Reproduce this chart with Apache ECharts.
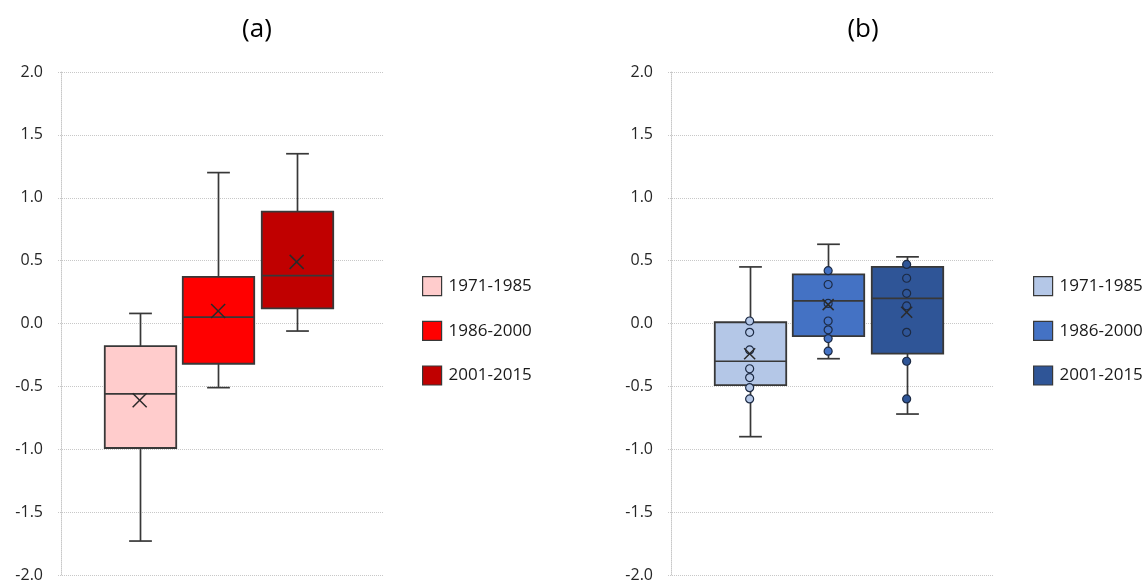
<!DOCTYPE html>
<html>
<head>
<meta charset="utf-8">
<script src="https://cdn.jsdelivr.net/npm/echarts@6/dist/echarts.min.js"></script>
<style>
html, body { margin: 0; padding: 0; background: #fff; }
#chart { width: 1148px; height: 587px; }
</style>
</head>
<body>
<div id="chart"></div>
<script>
const periods = ['1971-1985', '1986-2000', '2001-2015']

// box stats: [min, Q1, median, Q3, max]
const boxesA = [
	[-1.73, -0.99, -0.56, -0.18, 0.08],
	[-0.51, -0.32, 0.05, 0.37, 1.20],
	[-0.06, 0.12, 0.38, 0.89, 1.35]
]
const meansA = [-0.61, 0.10, 0.49]

const boxesB = [
	[-0.90, -0.49, -0.30, 0.01, 0.45],
	[-0.28, -0.10, 0.18, 0.39, 0.63],
	[-0.72, -0.24, 0.20, 0.45, 0.53]
]
const meansB = [-0.24, 0.15, 0.09]
const pointsB = [
	[0.02, -0.07, -0.21, -0.36, -0.43, -0.51, -0.60],
	[0.42, 0.31, 0.16, 0.02, -0.05, -0.12, -0.22],
	[0.47, 0.36, 0.24, 0.14, -0.07, -0.30, -0.60]
]

const yMin = -2, yMax = 2, yStep = 0.5

const coloursA = ['#FFCCCC', '#FF0000', '#C00000']
const coloursB = ['#B4C7E7', '#4472C4', '#2F5597']

const font = '"Open Sans", "Liberation Sans", sans-serif'
const edge = '#383838'
const grey = '#c8c8c8'

function renderBox(params, api) {
	const x = api.value(0)
	const lo = api.coord([x, api.value(1)])
	const q1 = api.coord([x, api.value(2)])
	const med = api.coord([x, api.value(3)])
	const q3 = api.coord([x, api.value(4)])
	const hi = api.coord([x, api.value(5)])
	const unit = api.size([1, 0])[0]
	const half = unit * 0.455
	const cap = unit * 0.145
	const cx = Math.round(lo[0]) + 0.5
	const line = { stroke: edge, lineWidth: 1.7 }
	return {
		type: 'group',
		children: [
			{ type: 'line', shape: { x1: cx, y1: hi[1], x2: cx, y2: lo[1] }, style: line },
			{ type: 'line', shape: { x1: cx - cap, y1: hi[1], x2: cx + cap, y2: hi[1] }, style: line },
			{ type: 'line', shape: { x1: cx - cap, y1: lo[1], x2: cx + cap, y2: lo[1] }, style: line },
			{ type: 'rect', shape: { x: cx - half, y: q3[1], width: half * 2, height: q1[1] - q3[1] },
				style: { fill: api.visual('color'), stroke: edge, lineWidth: 1.8 } },
			{ type: 'line', shape: { x1: cx - half, y1: med[1], x2: cx + half, y2: med[1] }, style: line }
		]
	}
}

function renderMean(size) {
	return function (params, api) {
		const p = api.coord([api.value(0), api.value(1)])
		const h = size / 2
		const st = { stroke: '#2a2a2a', lineWidth: 1.5 }
		return {
			type: 'group',
			children: [
				{ type: 'line', shape: { x1: p[0] - h, y1: p[1] - h, x2: p[0] + h, y2: p[1] + h }, style: st },
				{ type: 'line', shape: { x1: p[0] - h, y1: p[1] + h, x2: p[0] + h, y2: p[1] - h }, style: st }
			]
		}
	}
}

function panelGrid(left) {
	return { left: left, top: 72, width: 325, height: 503 }
}

function yAxisFor(idx) {
	return {
		type: 'value', gridIndex: idx, min: yMin, max: yMax, interval: yStep,
		axisLine: { show: true, lineStyle: { color: grey, type: 'dotted', width: 1 } },
		axisTick: { show: false },
		axisLabel: { margin: 15, fontSize: 16, color: '#262626', fontFamily: font, formatter: v => v.toFixed(1) },
		splitLine: { show: true, lineStyle: { color: grey, type: 'dotted', width: 1 } }
	}
}

function xAxisFor(idx) {
	return { type: 'value', gridIndex: idx, min: -0.04, max: 4.1, show: false }
}

function legendFor(tag, left) {
	return {
		orient: 'vertical', left: left, top: 271, icon: 'rect',
		itemWidth: 19, itemHeight: 19, itemGap: 24.5,
		itemStyle: { borderColor: edge, borderWidth: 1.2 },
		data: periods.map(p => tag + p),
		formatter: n => n.slice(tag.length),
		textStyle: { fontSize: 17, color: '#1a1a1a', fontFamily: font, padding: [0, 0, 0, 2] },
		selectedMode: false
	}
}

const series = []
periods.forEach((p, i) => {
	series.push({
		name: 'a:' + p, type: 'custom', xAxisIndex: 0, yAxisIndex: 0, z: 2,
		itemStyle: { color: coloursA[i] },
		renderItem: renderBox,
		encode: { x: 0, y: [1, 2, 3, 4, 5] },
		data: [[i + 1].concat(boxesA[i])]
	})
	series.push({
		name: 'b:' + p, type: 'custom', xAxisIndex: 1, yAxisIndex: 1, z: 2,
		itemStyle: { color: coloursB[i] },
		renderItem: renderBox,
		encode: { x: 0, y: [1, 2, 3, 4, 5] },
		data: [[i + 1].concat(boxesB[i])]
	})
	series.push({
		name: 'b-points:' + p, type: 'scatter', xAxisIndex: 1, yAxisIndex: 1, z: 3,
		symbolSize: 8,
		itemStyle: { color: coloursB[i], borderColor: '#1c2a44', borderWidth: 1.2, opacity: 1 },
		data: pointsB[i].map(v => [i + 1, v])
	})
})
series.push({
	name: 'a-mean', type: 'custom', xAxisIndex: 0, yAxisIndex: 0, z: 4,
	renderItem: renderMean(14),
	encode: { x: 0, y: 1 },
	data: meansA.map((m, i) => [i + 1, m])
})
series.push({
	name: 'b-mean', type: 'custom', xAxisIndex: 1, yAxisIndex: 1, z: 4,
	renderItem: renderMean(11),
	encode: { x: 0, y: 1 },
	data: meansB.map((m, i) => [i + 1, m])
})

const chart = echarts.init(document.getElementById('chart'))
chart.setOption({
	animation: false,
	backgroundColor: '#fff',
	title: [
		{ text: '(a)', left: 252, top: 12, textAlign: 'center', textStyle: { fontSize: 26, fontWeight: 'normal', color: '#000', fontFamily: font } },
		{ text: '(b)', left: 858, top: 12, textAlign: 'center', textStyle: { fontSize: 26, fontWeight: 'normal', color: '#000', fontFamily: font } }
	],
	grid: [panelGrid(58), panelGrid(668)],
	xAxis: [xAxisFor(0), xAxisFor(1)],
	yAxis: [yAxisFor(0), yAxisFor(1)],
	legend: [legendFor('a:', 417), legendFor('b:', 1028)],
	series: series
})
</script>
</body>
</html>
